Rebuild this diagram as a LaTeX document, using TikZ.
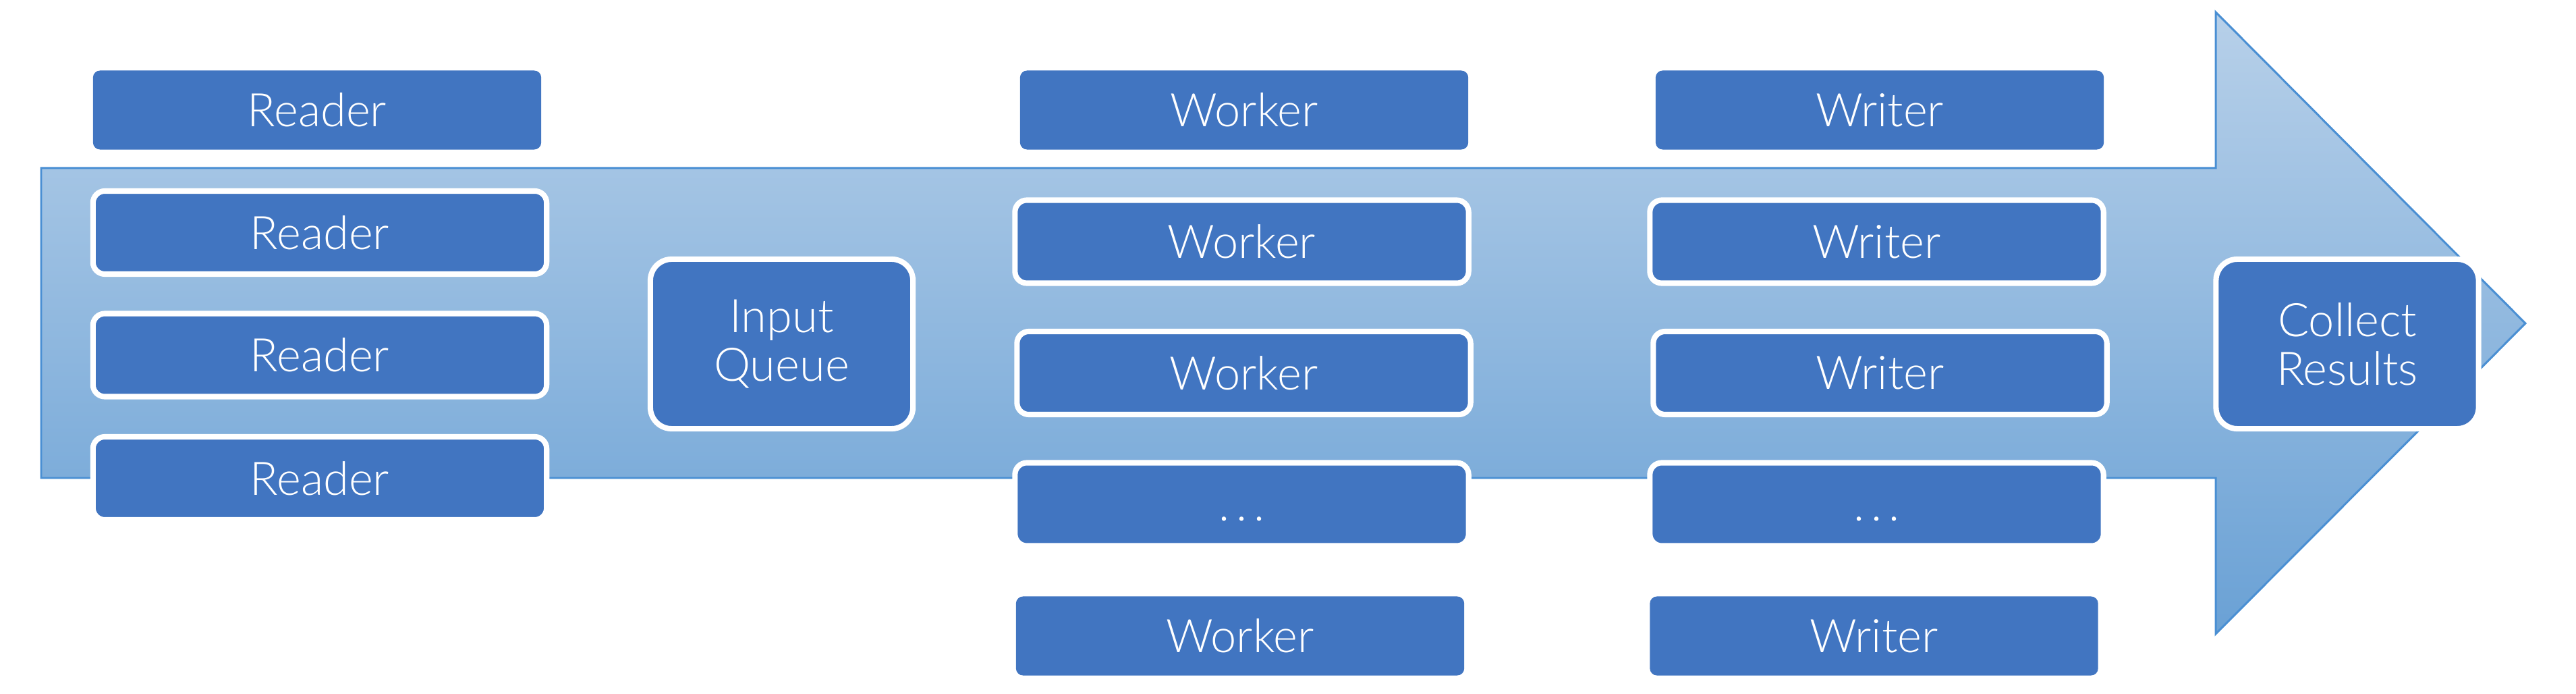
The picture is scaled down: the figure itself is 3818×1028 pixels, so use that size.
\documentclass[tikz,border=0pt]{standalone}
\usepackage{fontspec}
\setmainfont{Lato Light}
\definecolor{boxblue}{HTML}{4175C1}
\definecolor{arrowline}{HTML}{4A8FD3}
\definecolor{arrowtop}{HTML}{B7D0E9}
\definecolor{arrowbot}{HTML}{6AA1D5}
\newcommand{\mydots}{\vphantom{W}.\kern0.14em.\kern0.14em.}
\begin{document}
\begin{tikzpicture}[x=0.01cm,y=-0.01cm,
  lbl/.style={text=white, font=\fontsize{19.5}{20.5}\selectfont, inner sep=0pt, align=center},
  plainbox/.style={lbl, fill=boxblue, rounded corners=3pt, minimum width=6.64cm, minimum height=1.17cm},
  ringbox/.style={lbl, fill=boxblue, draw=white, line width=2.3pt, rounded corners=5pt, minimum width=6.72cm, minimum height=1.23cm},
  bigbox/.style={ringbox, rounded corners=9pt, minimum width=3.89cm, minimum height=2.51cm}]
\useasboundingbox (0,0) rectangle (3818,1028);
% big arrow
\shadedraw[top color=arrowtop, bottom color=arrowbot, draw=arrowline, line width=0.85pt]
  (61,249) -- (3284,249) -- (3284,18) -- (3743,479) -- (3284,939) -- (3284,708) -- (61,708) -- cycle;
% readers
\node[plainbox] (r0) at (470,163) {Reader};
\node[ringbox] (r1) at (474,344.5) {Reader};
\node[ringbox] (r2) at (474,526) {Reader};
\node[ringbox] (r3) at (474,708.5) {Reader};
% input queue
\node[bigbox] (iq) at (1158.5,509.5) {Input\\Queue};
% workers
\node[plainbox] (w0) at (1844,163) {Worker};
\node[ringbox] (w1) at (1840.5,358) {Worker};
\node[ringbox] (w2) at (1843.5,552.5) {Worker};
\node[ringbox] (w3) at (1840.5,747) {\mydots};
\node[plainbox] (w4) at (1838,942) {Worker};
% writers
\node[plainbox] (t0) at (2786,163) {Writer};
\node[ringbox] (t1) at (2781.5,358) {Writer};
\node[ringbox] (t2) at (2786.5,552.5) {Writer};
\node[ringbox] (t3) at (2781.5,747) {\mydots};
\node[plainbox] (t4) at (2777.5,942) {Writer};
% collect
\node[bigbox] (cr) at (3479,509.5) {Collect\\Results};
\end{tikzpicture}
\end{document}
